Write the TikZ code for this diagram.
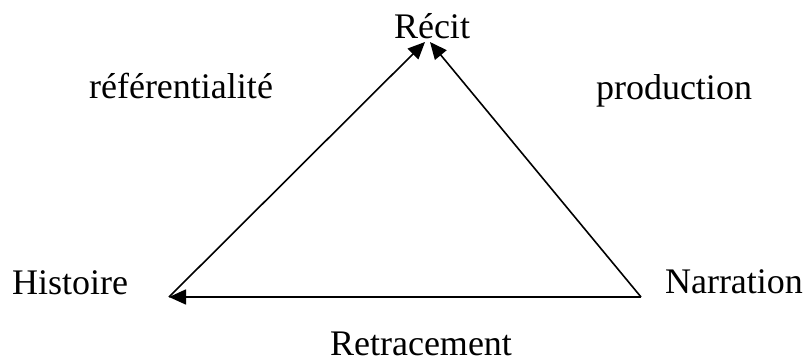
\documentclass[tikz,border=0pt]{standalone}
\usepackage{fontspec}
\setmainfont{Liberation Serif}
\usetikzlibrary{positioning,arrows.meta}

\begin{document}
\begin{tikzpicture}[x=1pt,y=-1pt,font=\fontsize{36}{40}\selectfont,
		lbl/.style={anchor=base,inner sep=0pt},
		side/.style={line width=1.6pt,-{Triangle[length=17pt,width=15pt]}}]
			\useasboundingbox (0,0) rectangle (807,362);
% 			corners of the triangle
			\coordinate (topL) at (425,42);
			\coordinate (topR) at (430,42);
			\coordinate (hist) at (169,297);
			\coordinate (narr) at (641,297);
			\node[lbl] (recit) at (432,38) {Récit};
			\node[lbl] (histoire) at (70,294) {Histoire};
			\node[lbl] (narration) at (734,293) {Narration};
			\node[lbl] (refer) at (181,98) {référentialité};
			\node[lbl] (prod) at (674,99) {production};
			\node[lbl] (retr) at (421,355) {Retracement};

			\draw[side] (hist)--(topL);
			\draw[side] (narr)--(topR);
			\draw[side] (narr)--(hist);
\end{tikzpicture}
\end{document}
